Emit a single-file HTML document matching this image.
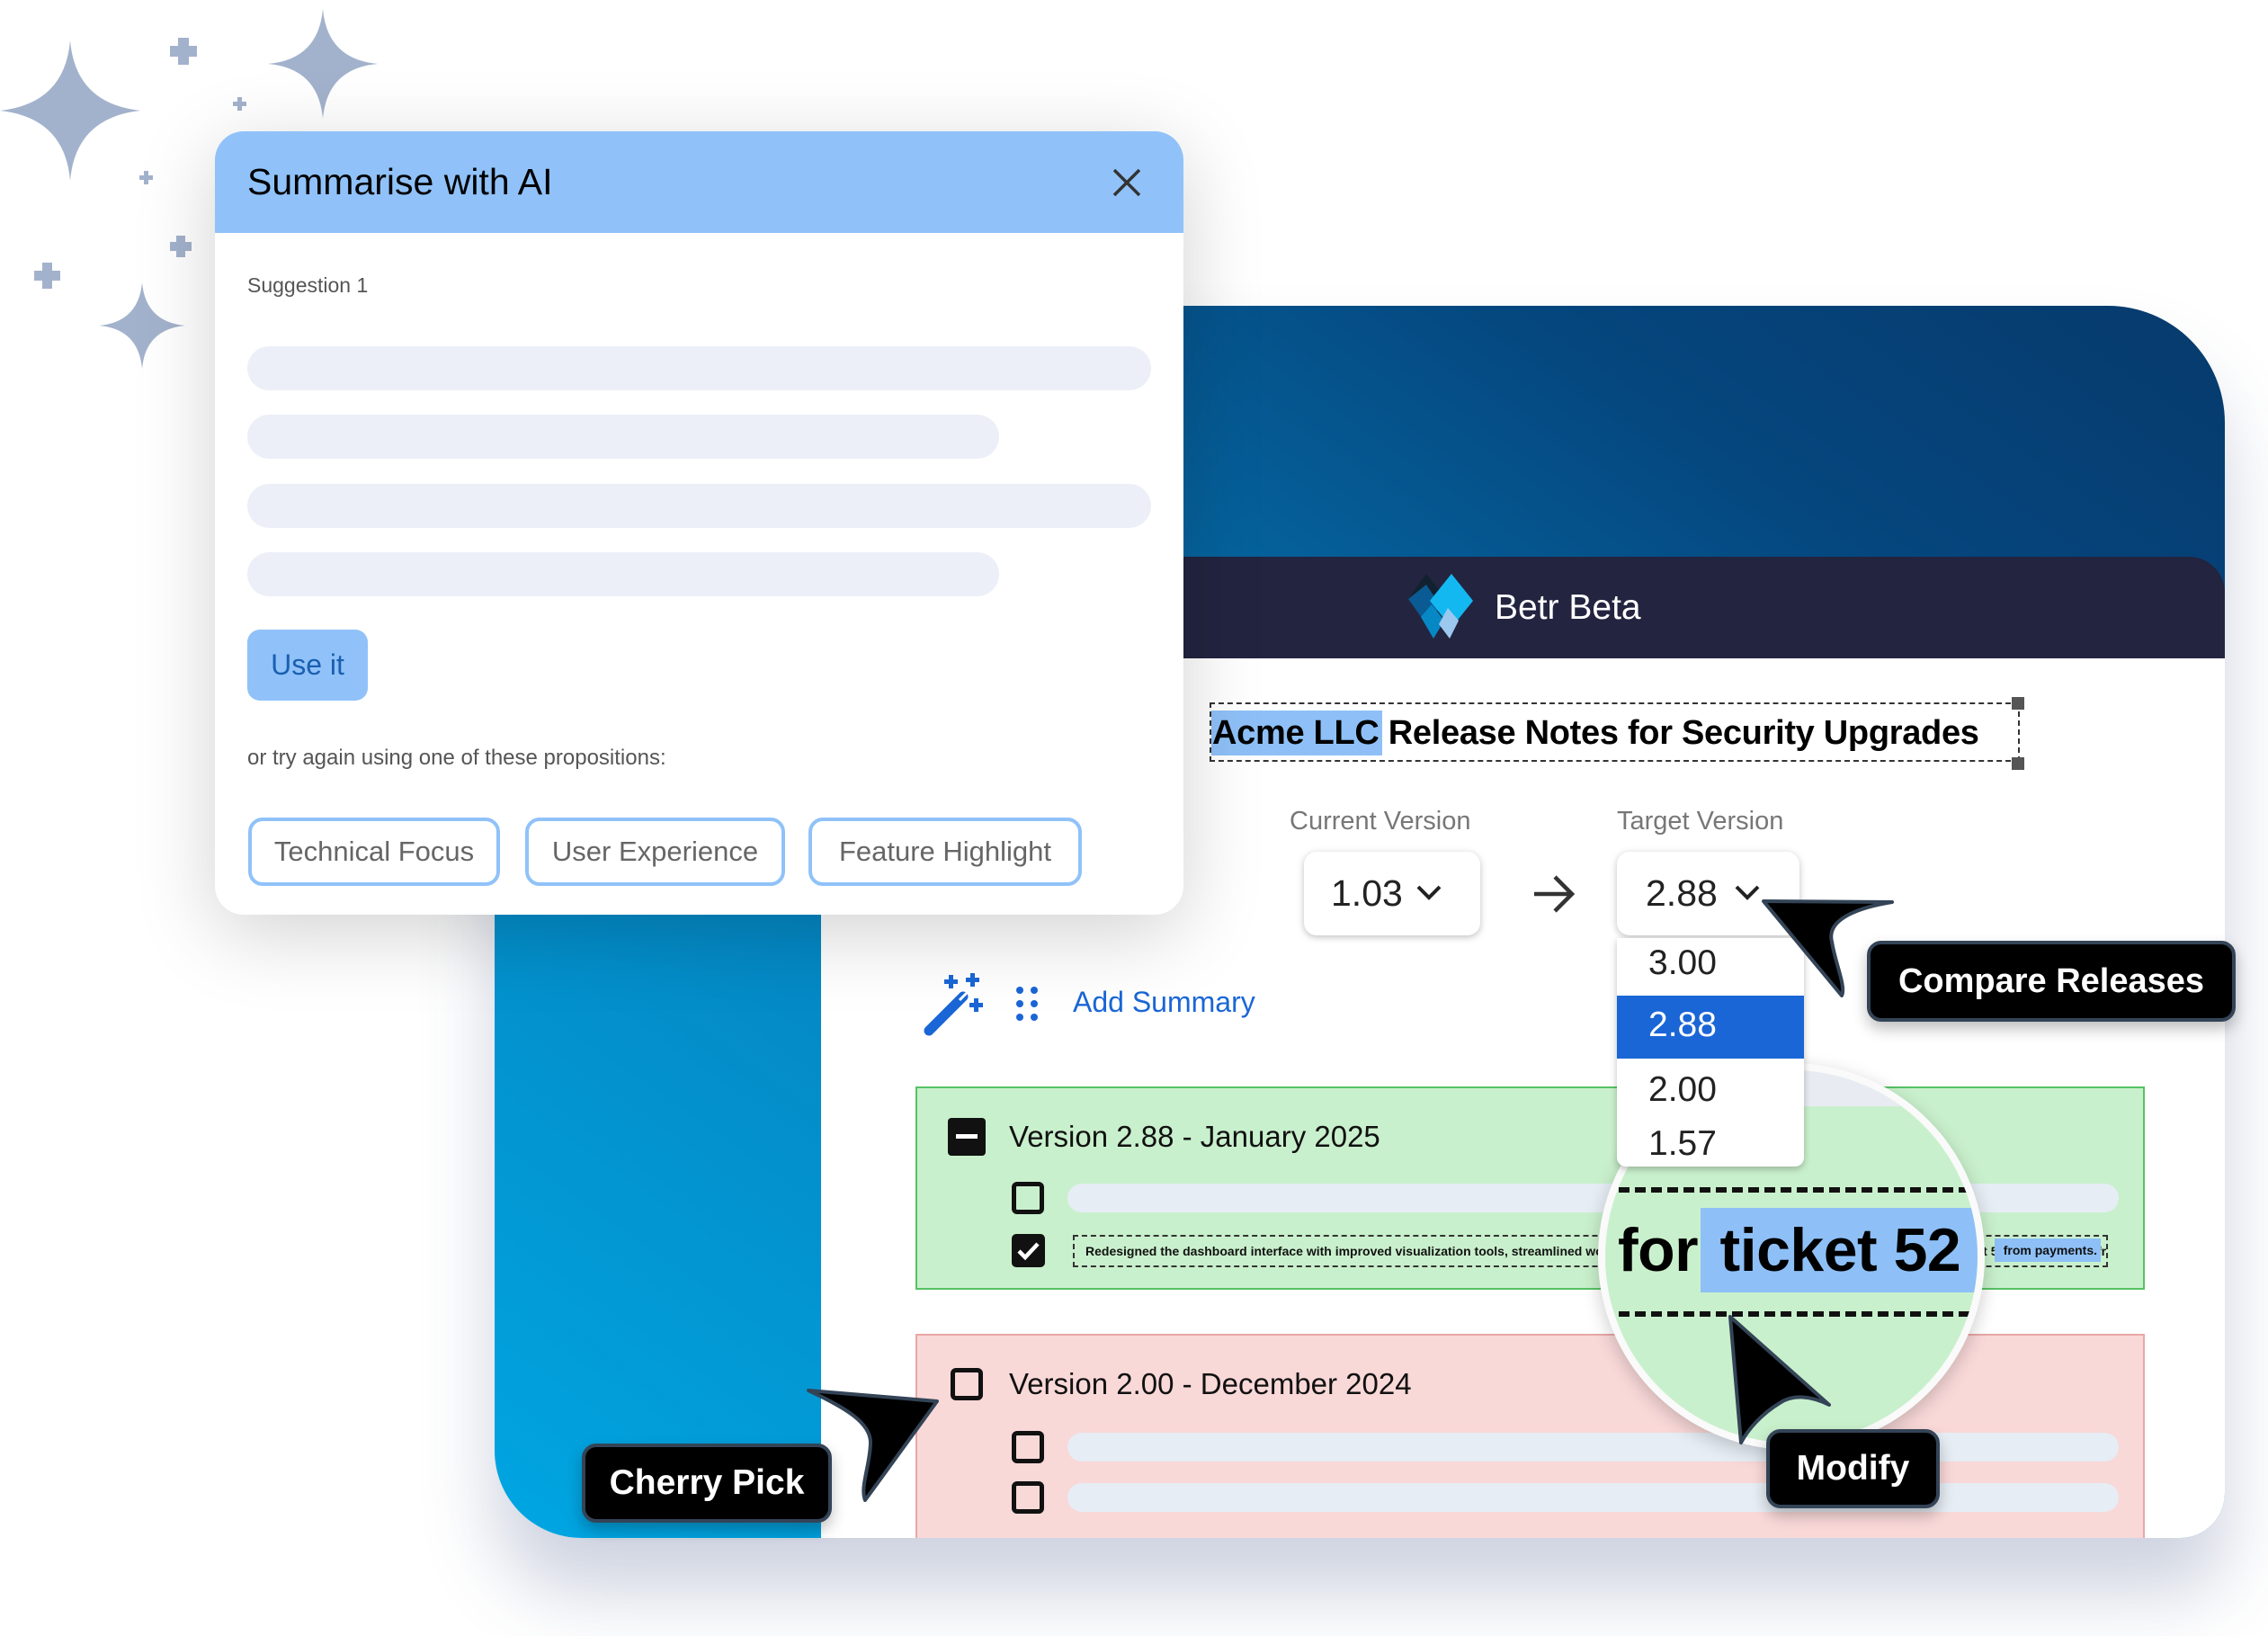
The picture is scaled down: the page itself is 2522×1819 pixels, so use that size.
<!DOCTYPE html>
<html><head><meta charset="utf-8">
<style>
*{margin:0;padding:0;box-sizing:border-box}
body{width:2522px;height:1819px;background:#fff;position:relative;overflow:hidden;font-family:"Liberation Sans",sans-serif}
.a{position:absolute}
.card{left:550px;top:340px;width:1924px;height:1370px;border-radius:130px 130px 50px 97px;background:linear-gradient(35deg,#00a6e2 0%,#0582be 40%,#05467e 80%,#063a6c 100%);box-shadow:0 60px 80px rgba(60,80,130,.25);overflow:hidden}
.navy{left:363px;top:279px;width:1561px;height:113px;background:#232440;border-radius:0 40px 0 0}
.white{left:363px;top:392px;width:1561px;height:978px;background:#fff}
.dlg{left:239px;top:146px;width:1077px;height:871px;background:#fff;border-radius:32px;box-shadow:0 20px 90px rgba(0,0,0,.18);overflow:hidden}
.bar{background:#eceff7;border-radius:30px;height:49px;left:36px}
.chip{top:763px;height:76px;border:4px solid #90c2f9;border-radius:16px;color:#666;font-size:31px;line-height:68px;text-align:center}
.lbl{background:#000;color:#fff;font-weight:bold;border:4px solid #344457;border-radius:16px;text-align:center;box-shadow:0 8px 16px rgba(0,0,0,.25)}
.cb{width:36px;height:36px;border:5px solid #111;border-radius:6px;background:transparent}
.gbar{background:#e6edf4;border-radius:20px;height:32px}
</style></head><body>

<svg class="a" style="left:0;top:0" width="460" height="460">
<g fill="#a3b2cc">
<path d="M78 45 Q84 115 156 123 Q84 131 78 201 Q72 131 0 123 Q72 115 78 45Z"/>
<path d="M359 10 Q364 66 420 71 Q364 76 359 132 Q354 76 298 71 Q354 66 359 10Z"/>
<path d="M158 314 Q162 358 206 362 Q162 366 158 410 Q154 366 110 362 Q154 358 158 314Z"/>
<path d="M204 44h12v9h9v12h-9v9h-12v-9h-9v-12h9z" transform="translate(-6 -2)"/>
<path d="M196 262h10v7h7v10h-7v7h-10v-7h-7v-10h7z"/>
<path d="M47 292h11v9h9v11h-9v9h-11v-9h-9v-11h9z"/>
<path d="M264 108h5v5h5v5h-5v5h-5v-5h-5v-5h5z"/>
<path d="M160 190h5v5h5v5h-5v5h-5v-5h-5v-5h5z"/>
</g></svg>

<div class="a card">
  <div class="a navy"></div>
  <div class="a white"></div>
</div>

<svg class="a" style="left:1566px;top:638px" width="72" height="72" viewBox="0 0 72 72">
<path d="M20 0 L36 20 L20 44 L0 28 Z" fill="#12212f"/>
<path d="M0 28 L20 12 L36 36 L20 56 Z" fill="#0a5a93"/>
<path d="M48 0 L72 30 L48 60 L24 30 Z" fill="#14b8f0"/>
<path d="M14 48 L26 34 L40 52 L28 72 Z" fill="#0688c5"/>
<path d="M44 38 L56 52 L46 72 L34 56 Z" fill="#9cc8ef"/>
</svg>
<div class="a" style="left:1662px;top:652px;color:#fff;font-size:39px;line-height:48px">Betr Beta</div>

<div class="a" style="left:1345px;top:781px;width:901px;height:66px;border:2px dashed #333"></div>
<div class="a" style="left:2237px;top:775px;width:14px;height:14px;background:#555"></div>
<div class="a" style="left:2237px;top:842px;width:14px;height:14px;background:#555"></div>
<div class="a" style="left:1347px;top:790px;width:190px;height:50px;background:#8ec0f7"></div>
<div class="a" style="left:1348px;top:790px;font-size:38px;font-weight:bold;line-height:50px;white-space:nowrap;color:#000;letter-spacing:-0.3px">Acme LLC Release Notes for Security Upgrades</div>

<div class="a" style="left:1434px;top:897px;font-size:29px;color:#777">Current Version</div>
<div class="a" style="left:1798px;top:897px;font-size:29px;color:#777">Target Version</div>
<div class="a" style="left:1450px;top:947px;width:196px;height:93px;border-radius:14px;background:#fff;box-shadow:0 2px 8px rgba(0,0,0,.25);font-size:41px;line-height:93px;padding-left:30px;color:#222">1.03<svg style="position:absolute;left:124px;top:36px" width="30" height="20"><path d="M3 3 L15 15 L27 3" stroke="#222" stroke-width="4" fill="none"/></svg></div>
<svg class="a" style="left:1703px;top:972px" width="50" height="44"><path d="M3 22 H45 M26 3 L45 22 L26 41" stroke="#333" stroke-width="4.5" fill="none"/></svg>
<div class="a" style="left:1798px;top:947px;width:203px;height:93px;border-radius:14px;background:#fff;box-shadow:0 2px 8px rgba(0,0,0,.25);font-size:41px;line-height:93px;padding-left:32px;color:#222">2.88<svg style="position:absolute;left:130px;top:36px" width="30" height="20"><path d="M3 3 L15 15 L27 3" stroke="#222" stroke-width="4" fill="none"/></svg></div>

<svg class="a" style="left:1025px;top:1080px" width="70" height="72" viewBox="0 0 70 72">
<path d="M8 66 L46 28" stroke="#1a66d6" stroke-width="11" stroke-linecap="round"/>
<path d="M42 32 L52 22" stroke="#fff" stroke-width="3"/>
<g fill="#1a66d6"><path d="M30 4h5v5h5v5h-5v5h-5v-5h-5v-5h5z"/><path d="M54 2h5v5h5v5h-5v5h-5v-5h-5v-5h5z"/><path d="M58 30h5v5h5v5h-5v5h-5v-5h-5v-5h5z"/></g></svg>
<svg class="a" style="left:1128px;top:1096px" width="30" height="40"><g fill="#1a66d6"><circle cx="6" cy="5" r="4"/><circle cx="22" cy="5" r="4"/><circle cx="6" cy="20" r="4"/><circle cx="22" cy="20" r="4"/><circle cx="6" cy="35" r="4"/><circle cx="22" cy="35" r="4"/></g></svg>
<div class="a" style="left:1193px;top:1096px;font-size:32px;color:#1a66d6">Add Summary</div>

<div class="a" style="left:1018px;top:1208px;width:1367px;height:226px;background:#c9f0cc;border:2px solid #56c265"></div>
<div class="a" style="left:1054px;top:1243px;width:42px;height:42px;background:#111;border-radius:4px"><div style="position:absolute;left:9px;top:18px;width:24px;height:5px;background:#fff"></div></div>
<div class="a" style="left:1122px;top:1245px;font-size:33px;color:#111">Version 2.88 - January 2025</div>
<div class="a cb" style="left:1125px;top:1314px"></div>
<div class="a gbar" style="left:1187px;top:1316px;width:1169px"></div>
<div class="a" style="left:1125px;top:1372px;width:37px;height:37px;background:#111;border-radius:5px"><svg width="37" height="37"><path d="M8 19 L15 26 L29 11" stroke="#fff" stroke-width="4.5" fill="none"/></svg></div>
<div class="a" style="left:1193px;top:1373px;width:1151px;height:36px;border:2px dashed #333;font-size:14px;font-weight:bold;line-height:32px;padding-left:12px;white-space:nowrap;overflow:hidden;color:#111">Redesigned the dashboard interface with improved visualization tools, streamlined workflows and faster access to reports, plus several fixes for ticket 52 that separates from payments.</div>
<div class="a" style="left:2218px;top:1377px;width:118px;height:26px;background:#8ec0f7;font-size:14px;font-weight:bold;line-height:26px;color:#111;text-align:right;padding-right:4px">from payments.</div>

<div class="a" style="left:1018px;top:1483px;width:1367px;height:227px;background:#f9d8d8;border:2px solid #e8a7a7;border-bottom:none"></div>
<div class="a cb" style="left:1057px;top:1521px"></div>
<div class="a" style="left:1122px;top:1520px;font-size:33px;color:#111">Version 2.00 - December 2024</div>
<div class="a cb" style="left:1125px;top:1591px"></div>
<div class="a gbar" style="left:1187px;top:1593px;width:1169px"></div>
<div class="a cb" style="left:1125px;top:1647px"></div>
<div class="a gbar" style="left:1187px;top:1649px;width:1169px"></div>

<div class="a" style="left:1777px;top:1182px;width:430px;height:430px;border-radius:50%;background:#c9f0cc;border:8px solid #fafafa;box-shadow:0 6px 20px rgba(0,0,0,.2);overflow:hidden">
  <div class="a" style="left:0;top:0;width:430px;height:40px;background:#e8ecf2"></div>
  <div class="a" style="left:15px;top:130px;width:390px;border-top:6px dashed #111"></div>
  <div class="a" style="left:15px;top:268px;width:390px;border-top:6px dashed #111"></div>
  <div class="a" style="left:106px;top:153px;width:311px;height:94px;background:#8ec0f7"></div>
  <div class="a" style="left:14px;top:155px;font-size:68px;font-weight:bold;line-height:90px;white-space:nowrap;color:#000;letter-spacing:-0.5px">for <span style="margin-left:6px">ticket 52</span></div>
</div>

<div class="a" style="left:1798px;top:1043px;width:208px;height:254px;background:#fff;border-radius:0 0 10px 10px;box-shadow:0 3px 8px rgba(0,0,0,.25);font-size:39px;color:#222">
  <div class="a" style="left:35px;top:6px">3.00</div>
  <div class="a" style="left:0;top:64px;width:208px;height:70px;background:#1a66d6"></div>
  <div class="a" style="left:35px;top:75px;color:#fff">2.88</div>
  <div class="a" style="left:35px;top:147px">2.00</div>
  <div class="a" style="left:35px;top:207px">1.57</div>
</div>

<svg class="a" style="left:1950px;top:990px" width="170" height="135"><path transform="translate(11 12)" d="M0 0 L143 1 C100 8 70 22 76 45 C80 70 92 95 87 105 Z" fill="#000" stroke="#344457" stroke-width="4" stroke-linejoin="round"/></svg>
<svg class="a" style="left:1910px;top:1450px" width="140" height="170"><path transform="translate(14 14)" d="M0 0 L110 98 C90 88 70 86 55 96 C35 108 20 125 12 140 Z" fill="#000" stroke="#344457" stroke-width="4" stroke-linejoin="round"/></svg>
<svg class="a" style="left:890px;top:1530px" width="170" height="140"><path transform="translate(152 28) scale(-1 1)" d="M0 0 L143 -12 C100 8 75 24 74 45 C74 70 86 95 80 110 Z" fill="#000" stroke="#344457" stroke-width="4" stroke-linejoin="round"/></svg>

<div class="a lbl" style="left:2076px;top:1046px;width:410px;height:90px;font-size:38px;line-height:82px">Compare Releases</div>
<div class="a lbl" style="left:1964px;top:1589px;width:193px;height:88px;font-size:39px;line-height:80px">Modify</div>
<div class="a lbl" style="left:647px;top:1605px;width:278px;height:88px;font-size:39px;line-height:80px">Cherry Pick</div>

<div class="a dlg">
  <div class="a" style="left:0;top:0;width:1077px;height:113px;background:#90c2f9"></div>
  <div class="a" style="left:36px;top:30px;font-size:41px;line-height:52px;color:#000">Summarise with AI</div>
  <svg class="a" style="left:997px;top:40px" width="34" height="34"><path d="M3 3 L31 31 M31 3 L3 31" stroke="#333" stroke-width="3.5"/></svg>
  <div class="a" style="left:36px;top:158px;font-size:23px;color:#555">Suggestion 1</div>
  <div class="a bar" style="top:239px;width:1005px"></div>
  <div class="a bar" style="top:315px;width:836px"></div>
  <div class="a bar" style="top:392px;width:1005px"></div>
  <div class="a bar" style="top:468px;width:836px"></div>
  <div class="a" style="left:36px;top:554px;width:134px;height:79px;background:#90c2f9;border-radius:14px;color:#1a5fb0;font-size:32px;line-height:79px;text-align:center">Use it</div>
  <div class="a" style="left:36px;top:683px;font-size:24px;color:#555">or try again using one of these propositions:</div>
  <div class="a chip" style="left:37px;width:280px">Technical Focus</div>
  <div class="a chip" style="left:345px;width:289px">User Experience</div>
  <div class="a chip" style="left:660px;width:304px">Feature Highlight</div>
</div>
</body></html>
